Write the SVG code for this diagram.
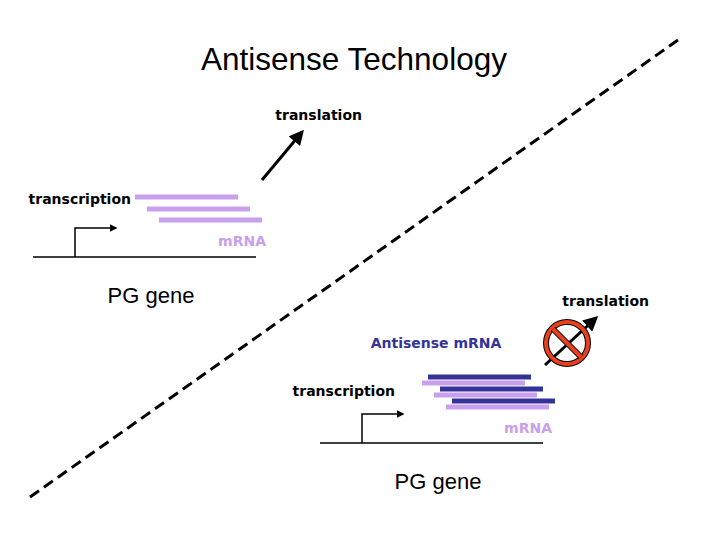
<svg xmlns="http://www.w3.org/2000/svg" width="720" height="540" viewBox="0 0 720 540">
<style>
.b{font-family:Verdana,"DejaVu Sans",sans-serif;font-weight:bold;font-size:14px}
.t{font-family:"Liberation Sans",Arial,sans-serif}
.lb{stroke:#c9a0ee;stroke-width:5}
.db{stroke:#333399;stroke-width:5}
.k{stroke:#000;fill:none}
</style>
<defs><marker id="a" viewBox="0 0 10 10" refX="8" refY="5" markerWidth="5" markerHeight="5" orient="auto"><path d="M0,0L10,5L0,10z" fill="#000"/></marker></defs>
<rect width="720" height="540" fill="#fff"/>
<text x="354" y="70" text-anchor="middle" class="t" font-size="31.5">Antisense Technology</text>
<g id="divider"><line x1="30" y1="497" x2="678" y2="40" stroke="#000" stroke-width="3" stroke-dasharray="11,6"/></g>
<g id="connectors">
<line x1="262" y1="180" x2="302" y2="132" class="k" stroke-width="3" marker-end="url(#a)"/>
<path d="M75,257V228H116" class="k" stroke-width="1.5" marker-end="url(#a)"/>
<path d="M362,443V414H403" class="k" stroke-width="1.5" marker-end="url(#a)"/>
<line x1="545" y1="365" x2="596" y2="318" class="k" stroke-width="3" marker-end="url(#a)"/>
</g>
<g id="top">
<text x="362" y="120" text-anchor="end" class="b">translation</text>
<text x="131" y="204" text-anchor="end" class="b">transcription</text>
<line x1="135" y1="197" x2="238" y2="197" class="lb"/>
<line x1="147" y1="209" x2="250" y2="209" class="lb"/>
<line x1="159" y1="220" x2="262" y2="220" class="lb"/>
<text x="266" y="246" text-anchor="end" class="b" fill="#c9a0ee">mRNA</text>
<line x1="33" y1="257" x2="256" y2="257" stroke="#000" stroke-width="1.5"/>
<text x="151" y="303" text-anchor="middle" class="t" font-size="22">PG gene</text>
</g>
<g id="bottom">
<text x="649" y="306" text-anchor="end" class="b">translation</text>
<text x="436" y="348" text-anchor="middle" class="b" fill="#333399">Antisense mRNA</text>
<text x="395" y="396" text-anchor="end" class="b">transcription</text>
<line x1="428" y1="377" x2="531" y2="377" class="db"/>
<line x1="422" y1="383" x2="525" y2="383" class="lb"/>
<line x1="440" y1="389" x2="543" y2="389" class="db"/>
<line x1="434" y1="395" x2="537" y2="395" class="lb"/>
<line x1="452" y1="401" x2="555" y2="401" class="db"/>
<line x1="446" y1="407" x2="549" y2="407" class="lb"/>
<text x="552" y="433" text-anchor="end" class="b" fill="#c9a0ee">mRNA</text>
<line x1="320" y1="443" x2="543" y2="443" stroke="#000" stroke-width="1.5"/>
<text x="438" y="489" text-anchor="middle" class="t" font-size="22">PG gene</text>
</g>
<g id="nosign">
<circle cx="567" cy="343" r="21" fill="none" stroke="#000" stroke-width="6"/>
<circle cx="567" cy="343" r="21" fill="none" stroke="#e8401c" stroke-width="4"/>
<line x1="553" y1="329" x2="581" y2="357" stroke="#000" stroke-width="6"/>
<line x1="553" y1="329" x2="581" y2="357" stroke="#e8401c" stroke-width="4"/>
</g>
</svg>
